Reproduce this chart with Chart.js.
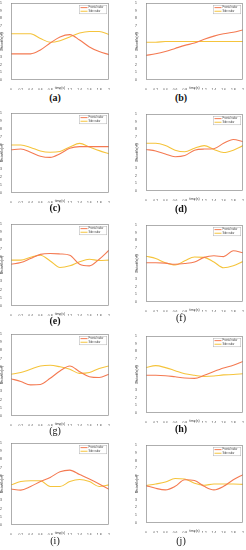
<!DOCTYPE html>
<html>
<head>
<meta charset="utf-8">
<script src="https://cdn.jsdelivr.net/npm/chart.js@4/dist/chart.umd.min.js"></script>
<style>
html,body{margin:0;padding:0;background:#fff;}
#wrap{position:relative;width:246px;height:550px;overflow:hidden;background:#fff;}
canvas{position:absolute;}
.lab{position:absolute;font-family:"Liberation Serif","DejaVu Serif",serif;font-size:10px;color:#111;transform:translateX(-50%);white-space:nowrap;}
</style>
</head>
<body>
<div id="wrap"></div>
<script>
// ---- data ----
const timeS = [0, 0.2, 0.4, 0.6, 0.8, 1.0, 1.2, 1.4, 1.6, 1.8, 2.0];
const yTicks = [0, 0.1, 0.2, 0.3, 0.4, 0.5, 0.6, 0.7, 0.8, 0.9, 1];
const seriesNames = ["Frontal radar", "Side radar"];
const panelLetters = ["a","b","c","d","e","f","g","h","i","j"];

const frontalA = [0.34, 0.34, 0.34, 0.39, 0.48, 0.56, 0.59, 0.52, 0.43, 0.37, 0.33];
const sideA    = [0.60, 0.60, 0.60, 0.54, 0.49, 0.51, 0.56, 0.61, 0.63, 0.63, 0.59];
const frontalB = [0.32, 0.34, 0.37, 0.41, 0.45, 0.48, 0.53, 0.57, 0.60, 0.62, 0.65];
const sideB    = [0.49, 0.49, 0.50, 0.50, 0.50, 0.50, 0.50, 0.50, 0.50, 0.50, 0.50];
const frontalC = [0.54, 0.55, 0.51, 0.46, 0.445, 0.49, 0.56, 0.58, 0.58, 0.58, 0.58];
const sideC    = [0.60, 0.60, 0.57, 0.525, 0.51, 0.52, 0.575, 0.62, 0.575, 0.53, 0.49];
const frontalD = [0.54, 0.52, 0.48, 0.445, 0.46, 0.53, 0.545, 0.55, 0.62, 0.67, 0.64];
const sideD    = [0.62, 0.62, 0.59, 0.53, 0.51, 0.555, 0.59, 0.54, 0.50, 0.53, 0.59];
const frontalE = [0.51, 0.53, 0.58, 0.63, 0.64, 0.635, 0.62, 0.51, 0.49, 0.57, 0.68];
const sideE    = [0.56, 0.56, 0.595, 0.62, 0.55, 0.47, 0.49, 0.54, 0.57, 0.555, 0.56];
const frontalF = [0.51, 0.51, 0.505, 0.49, 0.50, 0.52, 0.58, 0.60, 0.59, 0.665, 0.64];
const sideF    = [0.595, 0.565, 0.51, 0.48, 0.535, 0.585, 0.58, 0.52, 0.445, 0.47, 0.525];
const frontalG = [0.455, 0.42, 0.38, 0.385, 0.46, 0.55, 0.61, 0.54, 0.48, 0.47, 0.51];
const sideG    = [0.51, 0.53, 0.57, 0.61, 0.62, 0.60, 0.57, 0.52, 0.53, 0.58, 0.61];
const frontalH = [0.49, 0.49, 0.485, 0.47, 0.455, 0.45, 0.49, 0.54, 0.585, 0.62, 0.67];
const sideH    = [0.59, 0.615, 0.59, 0.55, 0.51, 0.49, 0.475, 0.48, 0.495, 0.50, 0.51];
const frontalI = [0.44, 0.425, 0.47, 0.53, 0.58, 0.65, 0.67, 0.615, 0.56, 0.50, 0.435];
const sideI    = [0.49, 0.53, 0.54, 0.54, 0.47, 0.47, 0.53, 0.555, 0.53, 0.47, 0.49];
const frontalJ = [0.48, 0.445, 0.425, 0.47, 0.555, 0.545, 0.47, 0.425, 0.47, 0.555, 0.62];
const sideJ    = [0.48, 0.50, 0.525, 0.57, 0.565, 0.51, 0.485, 0.50, 0.50, 0.50, 0.495];

const frontalSeries = [frontalA, frontalB, frontalC, frontalD, frontalE, frontalF, frontalG, frontalH, frontalI, frontalJ];
const sideSeries    = [sideA, sideB, sideC, sideD, sideE, sideF, sideG, sideH, sideI, sideJ];

// ---- layout (plot rectangles: left, top, right, bottom) ----
const plotRects = [
  [11,3,109,80],[146,3,243,80],
  [11,113,109,193],[146,114,243,191],
  [11,224,109,306],[146,225,243,302],
  [11,334,109,416],[146,336,243,413],
  [11,443,109,525],[146,445,243,523]
];
const labelPos = [[55,92],[181,92],[55,202],[181,203],[55,315],[181,312],[55,425],[181,423],[55,535],[181,535]];
const labelBold = [true,true,true,true,true,false,false,true,false,false];

const COL_F = '#f47a52';
const COL_S = '#f5c43c';
const AXW = 11, AXH = 10, PT = 3, PR = 2;

const framePlugin = {
  id: 'frameLegend',
  afterDatasetsDraw(chart) {
    const {ctx, chartArea: a} = chart;
    ctx.save();
    ctx.strokeStyle = '#8c8c8c';
    ctx.lineWidth = 0.7;
    ctx.strokeRect(a.left + 0.5, a.top + 0.5, a.right - a.left - 1, a.bottom - a.top - 1);
    // legend box
    const w = 28, h = 9;
    const x = a.right - w - 2, y = a.top + 2;
    ctx.fillStyle = '#fff';
    ctx.fillRect(x, y, w, h);
    ctx.strokeStyle = '#b0b0b0';
    ctx.lineWidth = 0.5;
    ctx.strokeRect(x + 0.25, y + 0.25, w - 0.5, h - 0.5);
    ctx.font = '2.6px "Liberation Sans", Arial, sans-serif';
    ctx.textBaseline = 'middle';
    chart.data.datasets.forEach((ds, i) => {
      const ly = y + 2.6 + i * 3.6;
      ctx.strokeStyle = ds.borderColor;
      ctx.lineWidth = 1;
      ctx.beginPath();
      ctx.moveTo(x + 1.5, ly);
      ctx.lineTo(x + 8.5, ly);
      ctx.stroke();
      ctx.fillStyle = '#444';
      ctx.fillText(ds.label, x + 9.5, ly);
    });
    ctx.restore();
  }
};

const wrap = document.getElementById('wrap');
plotRects.forEach((r, i) => {
  const [l, t, rr, b] = r;
  const cw = (rr - l) + AXW + PR;
  const ch = (b - t) + PT + AXH;
  const c = document.createElement('canvas');
  c.width = cw; c.height = ch;
  c.style.width = cw + 'px'; c.style.height = ch + 'px';
  c.style.left = (l - AXW) + 'px';
  c.style.top = (t - PT) + 'px';
  wrap.appendChild(c);

  const mk = arr => timeS.map((x, k) => ({x: x, y: arr[k]}));
  new Chart(c.getContext('2d'), {
    type: 'line',
    data: {
      datasets: [
        {label: seriesNames[0], data: mk(frontalSeries[i]), borderColor: COL_F, borderWidth: 1.1, pointRadius: 0, cubicInterpolationMode: 'monotone', fill: false},
        {label: seriesNames[1], data: mk(sideSeries[i]), borderColor: COL_S, borderWidth: 1.1, pointRadius: 0, cubicInterpolationMode: 'monotone', fill: false}
      ]
    },
    options: {
      responsive: false,
      animation: false,
      devicePixelRatio: 1,
      layout: {padding: {top: PT, right: PR, left: 0, bottom: 0}},
      plugins: {legend: {display: false}, tooltip: {enabled: false}},
      scales: {
        x: {
          type: 'linear', min: 0, max: 2,
          afterBuildTicks: s => { s.ticks = timeS.map(v => ({value: v})); },
          grid: {display: false},
          border: {display: false},
          ticks: {font: {size: 3.4, family: 'Liberation Sans'}, color: '#444', padding: 0.5, maxRotation: 0, autoSkip: false,
                  callback: v => String(Number(v.toFixed(1)))},
          title: {display: true, text: 'time(s)', font: {size: 3.4, family: 'Liberation Sans'}, color: '#444', padding: {top: 0.5, bottom: 0}},
          afterFit: s => { s.height = AXH; }
        },
        y: {
          type: 'linear', min: 0, max: 1,
          afterBuildTicks: s => { s.ticks = yTicks.map(v => ({value: v})); },
          grid: {display: false},
          border: {display: false},
          ticks: {font: {size: 3.4, family: 'Liberation Sans'}, color: '#444', padding: 1, autoSkip: false,
                  callback: v => String(Number(v.toFixed(1)))},
          title: {display: true, text: 'Distance(m)', font: {size: 3.4, family: 'Liberation Sans'}, color: '#444', padding: {top: 0, bottom: 0.5}},
          afterFit: s => { s.width = AXW; }
        }
      }
    },
    plugins: [framePlugin]
  });

  const d = document.createElement('div');
  d.className = 'lab';
  d.style.left = labelPos[i][0] + 'px';
  d.style.top = labelPos[i][1] + 'px';
  d.style.fontWeight = labelBold[i] ? 'bold' : 'normal';
  d.textContent = '(' + panelLetters[i] + ')';
  wrap.appendChild(d);
});
</script>
</body>
</html>
